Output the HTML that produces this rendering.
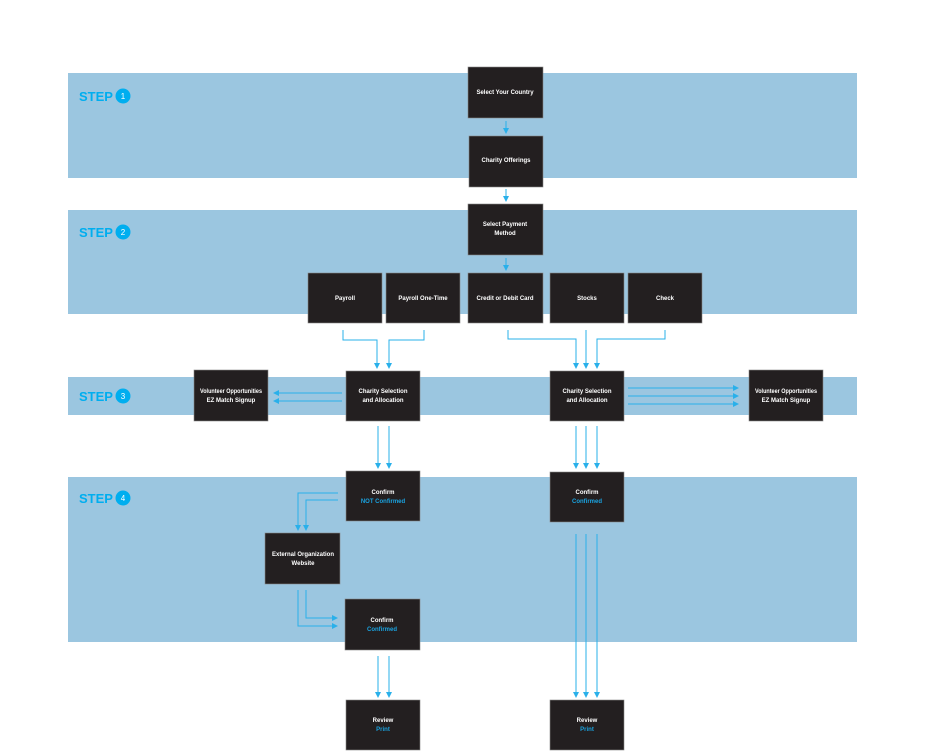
<!DOCTYPE html>
<html><head><meta charset="utf-8"><style>
html,body{margin:0;padding:0;background:#fff;}
svg{display:block;}
.b{fill:#231f20;stroke:#888;stroke-width:0.6;}
.t{font-family:"Liberation Sans",sans-serif;font-size:6px;font-weight:bold;fill:#fff;text-anchor:middle;}
.tb{fill:#1aa3e0;}
.s{font-family:"Liberation Sans",sans-serif;font-size:13px;font-weight:bold;fill:#00aeef;}
.n{font-family:"Liberation Sans",sans-serif;font-size:8px;fill:#fff;text-anchor:middle;}
.l{fill:none;stroke:#29b0ea;stroke-width:1;}
</style></head><body>
<svg width="940" height="753" viewBox="0 0 940 753" xmlns="http://www.w3.org/2000/svg">
<defs><marker id="a" markerWidth="6" markerHeight="6" refX="5" refY="3" orient="auto" markerUnits="userSpaceOnUse"><path d="M0,0 L6,3 L0,6 z" fill="#29b0ea"/></marker></defs>
<rect x="68" y="73" width="789" height="105" fill="#9bc6e0"/>
<rect x="68" y="210" width="789" height="104" fill="#9bc6e0"/>
<rect x="68" y="377" width="789" height="38" fill="#9bc6e0"/>
<rect x="68" y="477" width="789" height="165" fill="#9bc6e0"/>
<g>
<text class="s" x="79" y="101">STEP</text><circle cx="123" cy="96" r="7.5" fill="#00aeef"/><text class="n" x="123" y="99">1</text>
<text class="s" x="79" y="237">STEP</text><circle cx="123" cy="232" r="7.5" fill="#00aeef"/><text class="n" x="123" y="235">2</text>
<text class="s" x="79" y="401">STEP</text><circle cx="123" cy="396" r="7.5" fill="#00aeef"/><text class="n" x="123" y="399">3</text>
<text class="s" x="79" y="503">STEP</text><circle cx="123" cy="498" r="7.5" fill="#00aeef"/><text class="n" x="123" y="501">4</text>
</g>
<g class="l">
<path d="M506 121 V133" marker-end="url(#a)"/>
<path d="M506 189 V201" marker-end="url(#a)"/>
<path d="M506 258 V270" marker-end="url(#a)"/>
<path d="M343 330 V340 H377 V368" marker-end="url(#a)"/>
<path d="M424 330 V340 H389 V368" marker-end="url(#a)"/>
<path d="M508 330 V339 H576 V368" marker-end="url(#a)"/>
<path d="M586 330 V368" marker-end="url(#a)"/>
<path d="M665 330 V339 H597 V368" marker-end="url(#a)"/>
<path d="M342 393 H274" marker-end="url(#a)"/>
<path d="M342 401 H274" marker-end="url(#a)"/>
<path d="M628 388 H738" marker-end="url(#a)"/>
<path d="M628 396 H738" marker-end="url(#a)"/>
<path d="M628 404 H738" marker-end="url(#a)"/>
<path d="M378 426 V468" marker-end="url(#a)"/>
<path d="M389 426 V468" marker-end="url(#a)"/>
<path d="M576 426 V468" marker-end="url(#a)"/>
<path d="M586 426 V468" marker-end="url(#a)"/>
<path d="M597 426 V468" marker-end="url(#a)"/>
<path d="M338 493 H298 V530" marker-end="url(#a)"/>
<path d="M338 500 H306 V530" marker-end="url(#a)"/>
<path d="M298 590 V626 H337" marker-end="url(#a)"/>
<path d="M306 590 V618 H337" marker-end="url(#a)"/>
<path d="M378 656 V697" marker-end="url(#a)"/>
<path d="M389 656 V697" marker-end="url(#a)"/>
<path d="M576 534 V697" marker-end="url(#a)"/>
<path d="M586 534 V697" marker-end="url(#a)"/>
<path d="M597 534 V697" marker-end="url(#a)"/>
</g>
<rect class="b" x="468" y="67" width="75" height="51"/><text class="t" x="505" y="94">Select Your Country</text>
<rect class="b" x="469" y="136" width="74" height="51"/><text class="t" x="506" y="162">Charity Offerings</text>
<rect class="b" x="468" y="204" width="75" height="51"/><text class="t" x="505" y="226">Select Payment</text><text class="t" x="505" y="235">Method</text>
<rect class="b" x="308" y="273" width="74" height="50"/><text class="t" x="345" y="300">Payroll</text>
<rect class="b" x="386" y="273" width="74" height="50"/><text class="t" x="423" y="300">Payroll One-Time</text>
<rect class="b" x="468" y="273" width="75" height="50"/><text class="t" x="505" y="300">Credit or Debit Card</text>
<rect class="b" x="550" y="273" width="74" height="50"/><text class="t" x="587" y="300">Stocks</text>
<rect class="b" x="628" y="273" width="74" height="50"/><text class="t" x="665" y="300">Check</text>
<rect class="b" x="194" y="370" width="74" height="51"/><text class="t" x="231" y="393" textLength="62" lengthAdjust="spacingAndGlyphs">Volunteer Opportunities</text><text class="t" x="231" y="402">EZ Match Signup</text>
<rect class="b" x="346" y="371" width="74" height="50"/><text class="t" x="383" y="393">Charity Selection</text><text class="t" x="383" y="402">and Allocation</text>
<rect class="b" x="550" y="371" width="74" height="50"/><text class="t" x="587" y="393">Charity Selection</text><text class="t" x="587" y="402">and Allocation</text>
<rect class="b" x="749" y="370" width="74" height="51"/><text class="t" x="786" y="393" textLength="62" lengthAdjust="spacingAndGlyphs">Volunteer Opportunities</text><text class="t" x="786" y="402">EZ Match Signup</text>
<rect class="b" x="346" y="471" width="74" height="50"/><text class="t" x="383" y="494">Confirm</text><text class="t tb" x="383" y="503">NOT Confirmed</text>
<rect class="b" x="550" y="472" width="74" height="50"/><text class="t" x="587" y="494">Confirm</text><text class="t tb" x="587" y="503">Confirmed</text>
<rect class="b" x="265" y="533" width="75" height="51"/><text class="t" x="303" y="556">External Organization</text><text class="t" x="303" y="565">Website</text>
<rect class="b" x="345" y="599" width="75" height="51"/><text class="t" x="382" y="622">Confirm</text><text class="t tb" x="382" y="631">Confirmed</text>
<rect class="b" x="346" y="700" width="74" height="50"/><text class="t" x="383" y="722">Review</text><text class="t tb" x="383" y="731">Print</text>
<rect class="b" x="550" y="700" width="74" height="50"/><text class="t" x="587" y="722">Review</text><text class="t tb" x="587" y="731">Print</text>
</svg>
</body></html>
